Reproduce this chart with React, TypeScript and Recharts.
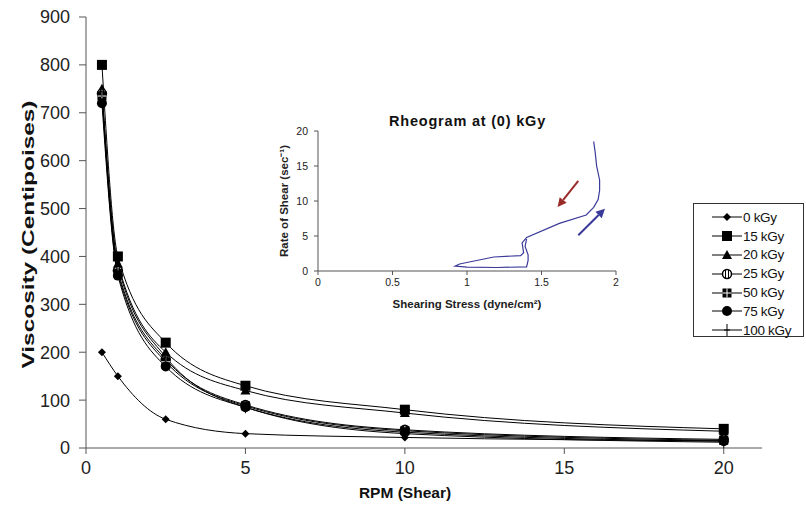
import React from "react";
import { LineChart, Line, XAxis, YAxis, ReferenceLine } from "recharts";

// main chart: viscosity vs RPM for each dose
const rpm = [0.5, 1, 2.5, 5, 10, 20];
const dose0 = [200, 150, 60, 30, 22, 15];
const dose15 = [800, 400, 220, 130, 80, 40];
const dose20 = [750, 385, 200, 120, 73, 35];
const dose25 = [740, 370, 185, 90, 38, 18];
const dose50 = [735, 365, 180, 88, 36, 16];
const dose75 = [720, 360, 170, 85, 33, 14];
const dose100 = [745, 380, 190, 85, 30, 12];

const seriesNames = ["0 kGy", "15 kGy", "20 kGy", "25 kGy", "50 kGy", "75 kGy", "100 kGy"];
const seriesValues = [dose0, dose15, dose20, dose25, dose50, dose75, dose100];
const markers = ["diamond", "square", "triangle", "hatchCircle", "hatchSquare", "circle", "plus"];

const xTicks = [0, 5, 10, 15, 20];
const yTicks = [0, 100, 200, 300, 400, 500, 600, 700, 800, 900];

// inset rheogram (shearing stress vs rate of shear), in drawing order
const stress = [1.85, 1.86, 1.87, 1.89, 1.89, 1.88, 1.85, 1.8, 1.62, 1.4, 1.37, 1.38, 1.36, 1.18, 0.95, 0.92, 1.0, 1.2, 1.4, 1.41, 1.41, 1.39, 1.4];
const shearRate = [18.5, 17, 15, 13, 11.5, 10.2, 9.1, 8.0, 6.8, 4.8, 4.0, 2.6, 2.2, 2.0, 1.0, 0.7, 0.55, 0.5, 0.6, 1.5, 2.3, 3.5, 4.6];
const insetXTicks = [0, 0.5, 1, 1.5, 2];
const insetYTicks = [0, 5, 10, 15, 20];

const mainRows = rpm.map((r, i) => {
  const row: any = { rpm: r };
  seriesValues.forEach((vals, s) => (row["s" + s] = vals[i]));
  return row;
});
const insetRows = stress.map((s, i) => ({ stress: s, rate: shearRate[i] }));

const FONT = "'Liberation Sans', Arial, sans-serif";

function Marker({ kind, cx, cy }: { kind: string; cx: number; cy: number }) {
  switch (kind) {
    case "diamond":
      return <polygon points={`${cx},${cy - 4} ${cx + 4},${cy} ${cx},${cy + 4} ${cx - 4},${cy}`} fill="#000" />;
    case "square":
      return <rect x={cx - 5} y={cy - 5} width={10} height={10} fill="#000" />;
    case "triangle":
      return <polygon points={`${cx},${cy - 5} ${cx + 5},${cy + 4} ${cx - 5},${cy + 4}`} fill="#000" />;
    case "hatchCircle":
      return (
        <g>
          <circle cx={cx} cy={cy} r={4.5} fill="#fff" stroke="#000" strokeWidth={1.5} />
          <line x1={cx - 1.5} y1={cy - 4} x2={cx - 1.5} y2={cy + 4} stroke="#000" />
          <line x1={cx + 1.5} y1={cy - 4} x2={cx + 1.5} y2={cy + 4} stroke="#000" />
        </g>
      );
    case "hatchSquare":
      return (
        <g>
          <rect x={cx - 4.5} y={cy - 4.5} width={9} height={9} fill="#000" />
          <line x1={cx} y1={cy - 4.5} x2={cx} y2={cy + 4.5} stroke="#fff" />
          <line x1={cx - 4.5} y1={cy} x2={cx + 4.5} y2={cy} stroke="#fff" />
        </g>
      );
    case "circle":
      return <circle cx={cx} cy={cy} r={5} fill="#000" />;
    default:
      return (
        <g stroke="#000" strokeWidth={1}>
          <line x1={cx} y1={cy - 6} x2={cx} y2={cy + 6} />
          <line x1={cx - 3} y1={cy} x2={cx + 3} y2={cy} />
        </g>
      );
  }
}

function makeDot(kind: string) {
  return (p: any) => (
    <g key={`${kind}-${p.index}`}>
      <Marker kind={kind} cx={p.cx} cy={p.cy} />
    </g>
  );
}

function arrowShape(color: string) {
  return (p: any) => {
    const { x1, y1, x2, y2 } = p;
    const a = Math.atan2(y2 - y1, x2 - x1);
    const L = 9;
    const w = 4.5;
    const bx = x2 - L * Math.cos(a);
    const by = y2 - L * Math.sin(a);
    const pts = `${x2},${y2} ${bx + w * Math.sin(a)},${by - w * Math.cos(a)} ${bx - w * Math.sin(a)},${by + w * Math.cos(a)}`;
    return (
      <g>
        <line x1={x1} y1={y1} x2={bx} y2={by} stroke={color} strokeWidth={2} />
        <polygon points={pts} fill={color} />
      </g>
    );
  };
}

function LegendBox() {
  return (
    <div
      style={{
        position: "absolute",
        left: 693,
        top: 203,
        width: 111,
        height: 134,
        boxSizing: "border-box",
        border: "1px solid #333",
        background: "#fff",
        fontFamily: FONT,
        fontSize: 13.5,
        color: "#111",
        paddingTop: 4,
      }}
    >
      {seriesNames.map((n, i) => (
        <div key={n} style={{ display: "flex", alignItems: "center", height: 18.8, paddingLeft: 18 }}>
          <svg width={30} height={14}>
            <line x1={0} y1={7} x2={30} y2={7} stroke="#000" strokeWidth={1} />
            <Marker kind={markers[i]} cx={15} cy={7} />
          </svg>
          <span style={{ marginLeft: 1, letterSpacing: -0.3 }}>{n}</span>
        </div>
      ))}
    </div>
  );
}

const yTitle = (p: any) => {
  const vb = p.viewBox;
  const cx = vb.x + 28;
  const cy = vb.y + vb.height / 2 + 2;
  return (
    <text
      x={cx}
      y={cy}
      transform={`rotate(-90 ${cx} ${cy})`}
      textAnchor="middle"
      dominantBaseline="central"
      textLength={268}
      lengthAdjust="spacingAndGlyphs"
      style={{ fill: "#111", fontSize: 17, fontWeight: "bold", fontFamily: FONT }}
    >
      Viscosity (Centipoises)
    </text>
  );
};

const xTitle = (p: any) => {
  const vb = p.viewBox;
  return (
    <text x={vb.x + 319} y={vb.y + 50} textAnchor="middle" style={{ fill: "#111", fontSize: 15.5, fontWeight: "bold", fontFamily: FONT }}>
      RPM (Shear)
    </text>
  );
};

export default function App() {
  return (
    <div style={{ position: "absolute", left: 0, top: 0, width: 806, height: 518, background: "#fff", fontFamily: FONT }}>
      <LineChart width={806} height={518} data={mainRows} margin={{ top: 17, right: 44, bottom: 0, left: 0 }}>
        <XAxis
          dataKey="rpm"
          type="number"
          domain={[0, 21.2]}
          ticks={xTicks}
          allowDataOverflow
          height={70}
          stroke="#555"
          tickSize={6}
          tickMargin={7}
          tick={{ fill: "#222", fontSize: 18, fontFamily: FONT }}
          label={{ content: xTitle }}
        />
        <YAxis
          type="number"
          domain={[0, 900]}
          ticks={yTicks}
          width={86}
          stroke="#555"
          tickSize={7}
          tickMargin={9}
          tick={{ fill: "#222", fontSize: 18, fontFamily: FONT }}
          label={{ content: yTitle }}
        />
        {seriesNames.map((n, i) => (
          <Line
            key={n}
            dataKey={"s" + i}
            name={n}
            type="monotone"
            stroke="#000"
            strokeWidth={1}
            dot={makeDot(markers[i])}
            activeDot={false}
            isAnimationActive={false}
          />
        ))}
      </LineChart>
      <div style={{ position: "absolute", left: 250, top: 105, width: 380, height: 215 }}>
        <div style={{ position: "absolute", left: 100, top: 8, width: 235, textAlign: "center", fontSize: 14.5, fontWeight: "bold", color: "#111", letterSpacing: 0.8 }}>
          Rheogram at (0) kGy
        </div>
        <LineChart width={380} height={215} data={insetRows} margin={{ top: 26, right: 14, bottom: 0, left: 30 }}>
          <XAxis
            dataKey="stress"
            type="number"
            domain={[0, 2]}
            ticks={insetXTicks}
            height={49}
            stroke="#555"
            tickSize={4}
            tickMargin={4}
            tick={{ fill: "#222", fontSize: 10.5, fontFamily: FONT }}
            label={{ value: "Shearing Stress (dyne/cm²)", position: "insideBottom", offset: 12, style: { fill: "#222", fontSize: 11.5, fontWeight: "bold", fontFamily: FONT } }}
          />
          <YAxis
            type="number"
            domain={[0, 20]}
            ticks={insetYTicks}
            width={38}
            stroke="#555"
            tickSize={4}
            tickMargin={6}
            tick={{ fill: "#222", fontSize: 10.5, fontFamily: FONT }}
            label={{ value: "Rate of Shear (sec⁻¹)", angle: -90, position: "insideLeft", offset: 4, style: { textAnchor: "middle", fill: "#222", fontSize: 11.5, fontWeight: "bold", fontFamily: FONT } }}
          />
          <Line dataKey="rate" type="linear" stroke="#3a3a9a" strokeWidth={1.2} dot={false} activeDot={false} isAnimationActive={false} />
          <ReferenceLine segment={[{ x: 1.747, y: 12.86 }, { x: 1.608, y: 9.14 }]} shape={arrowShape("#9b2b2b")} />
          <ReferenceLine segment={[{ x: 1.747, y: 5.1 }, { x: 1.926, y: 8.9 }]} shape={arrowShape("#3a3a9a")} />
        </LineChart>
      </div>
      <LegendBox />
    </div>
  );
}
